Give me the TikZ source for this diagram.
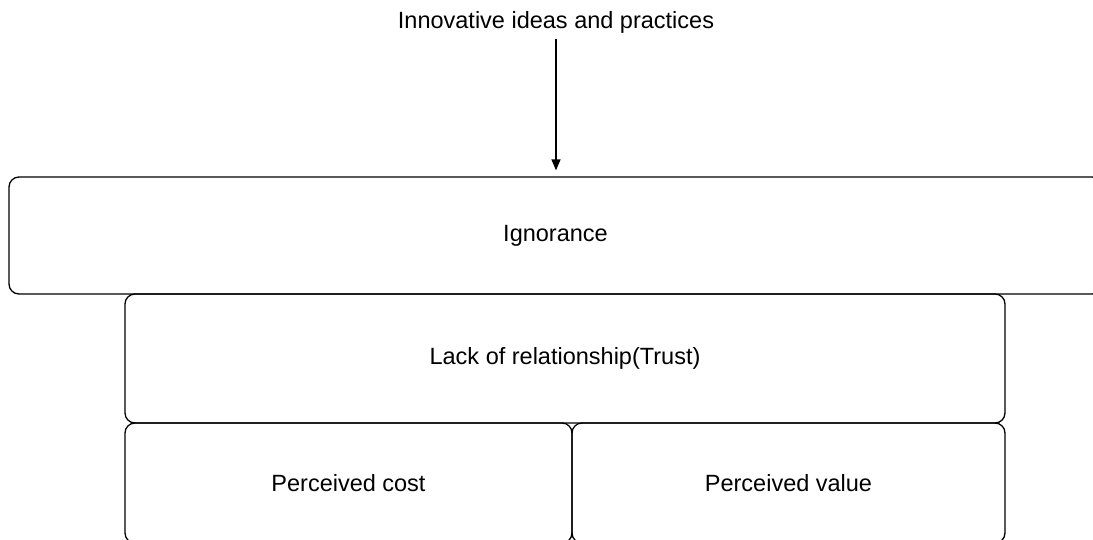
\documentclass[tikz,border=0pt]{standalone}
\usepackage{fontspec}
\setmainfont{Liberation Sans}
\usetikzlibrary{arrows.meta}
\begin{document}
\begin{tikzpicture}[x=1pt,y=-1pt,
  box/.style={draw, line width=1.3pt, rounded corners=10pt, inner sep=0pt, font=\fontsize{23.5}{28}\selectfont},
  lbl/.style={font=\fontsize{23.5}{28}\selectfont, inner sep=2pt},
  arr/.style={line width=1.3pt, -{Triangle[length=11pt,width=9pt]}}]
\useasboundingbox (0,0) rectangle (1093,539);
\clip (0,0) rectangle (1093,539);
\node[lbl] (top) at (556,22) {Innovative ideas and practices};
\node[box, minimum width=1093pt, minimum height=117pt] (ign) at (555.5,235.5) {Ignorance};
\node[box, minimum width=880pt, minimum height=129pt] (lack) at (565,358.5) {Lack of relationship(Trust)};
\node[box, minimum width=447pt, minimum height=120pt] (cost) at (348.5,483) {Perceived cost};
\node[box, minimum width=433pt, minimum height=120pt] (value) at (788.5,483) {Perceived value};
\draw[arr, shorten <=4pt, shorten >=6pt] (top.south) -- (top.south |- ign.north);
\end{tikzpicture}
\end{document}
